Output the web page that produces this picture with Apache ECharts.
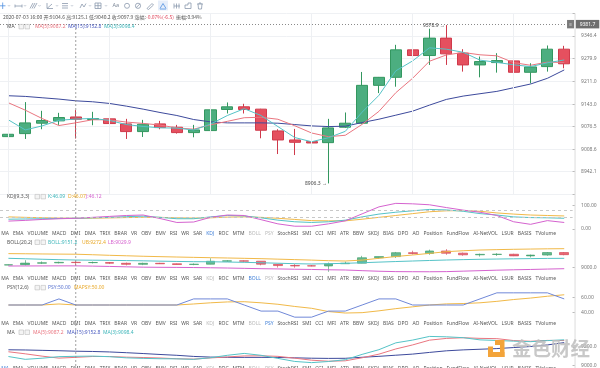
<!DOCTYPE html>
<html><head><meta charset="utf-8">
<script src="https://cdn.jsdelivr.net/npm/echarts@6/dist/echarts.min.js"></script>
<style>html,body{margin:0;padding:0;background:#fff;overflow:hidden}#c{width:600px;height:368px}</style>
</head><body><div id="c"></div>
<script>
// ---------------- data ----------------
const categories = ['07-03 00:00','07-03 04:00','07-03 08:00','07-03 12:00','07-03 16:00','07-03 20:00',
  '07-04 00:00','07-04 04:00','07-04 08:00','07-04 12:00','07-04 16:00','07-04 20:00',
  '07-05 00:00','07-05 04:00','07-05 08:00','07-05 12:00','07-05 16:00','07-05 20:00',
  '07-06 00:00','07-06 04:00','07-06 08:00','07-06 12:00','07-06 16:00','07-06 20:00',
  '07-07 00:00','07-07 04:00','07-07 08:00','07-07 12:00','07-07 16:00','07-07 20:00',
  '07-08 00:00','07-08 04:00','07-08 08:00','07-08 12:00'];
const opens  = [9046,9055,9086,9093,9104.6,9097,9099,9084,9061,9084,9074,9058,9064,9127,9135,9128,9063,9036,9031,9028,9074,9086,9199,9223,9305,9288,9340,9295,9260,9267,9272,9238,9255,9307];
const closes = [9053,9087,9094,9103,9097.9,9100,9085,9061,9083,9073,9058,9066,9126,9135,9127,9065,9036,9029,9027,9072,9086,9199,9223,9305,9288,9340,9293,9260,9270,9273,9238,9254,9307,9263.4];
const lows   = [9040,9039,9068,9081,9040.2,9080,9068,9039,9045,9068,9055,9044,9061,9115,9115,9041,8994,8991,9020,8906.3,9072,9084,9176,9195,9265,9260,9260,9240,9223,9237,9233,9205,9240,9250];
const highs  = [9058,9149,9123,9117,9125.1,9120,9111,9099,9096,9093,9081,9081,9189,9148,9144,9129,9068,9069,9048,9099,9118,9239,9224,9320,9346,9368,9378.9,9307,9285,9295,9282,9265,9318,9317];
const ma3  = [9096,9066,9078,9094.7,9098.4,9100.3,9094.3,9082,9076.3,9072.3,9071.3,9065.7,9083.3,9109,9129.3,9109,9076,9043.3,9030.7,9042.7,9061.7,9119,9169.3,9242.3,9272,9311,9307,9297.7,9274.3,9267.7,9260.3,9255,9266.3,9274.8];
const ma5  = [9147,9125,9100,9079,9087.2,9096.4,9096,9089.4,9085.4,9080.4,9072,9068.2,9081.2,9091.6,9102.4,9103.8,9097.8,9078.4,9056.8,9045.8,9050,9082.6,9121.4,9177,9220.2,9271,9289.8,9297.2,9290.2,9287.2,9266.8,9259,9268.4,9267.1];
const ma15 = [9168,9166,9162,9158,9152.8,9150,9145,9137,9128,9118,9109,9097,9090,9087,9087,9087,9086,9082,9078,9076,9077,9088,9098,9110,9122,9140,9157,9167,9174,9181,9192,9203,9220,9245];
const kdjK = [42,43,44,45,46.09,48,50,53,55,50,44,44,52,58,56,48,38,31,28,31,38,52,64,72,78,84,82,76,66,60,52,49,48,46];
const kdjD = [52,50,48.5,47,46.07,46.5,47.5,49,50,50,48,47,48,51,52,50,46,41,36,35,35,42,50,58,66,74,78,79,76,69,64,60,58,56];
const kdjJ = [34,37,41,44,46.12,50,54,58,60,45,28,30,50,60,58,40,22,12,12,22,35,65,95,110,108,104,92,81,72,58,31,20,36,28];
const bollUp  = [9285,9282,9278,9275,9272.4,9262,9250,9240,9230,9222,9214,9207,9200,9194,9187,9180,9170,9160,9150,9138,9131,9150,9187,9225,9256,9290,9325,9345,9360,9368,9375,9380,9385,9388];
const bollMid = [9187,9178,9168,9159,9151.2,9148,9145,9140,9135,9128,9122,9117,9115,9110,9103,9095,9085,9075,9069,9075,9083,9095,9108,9120,9131,9142,9152,9160,9167,9172,9177,9181,9185,9187];
const bollLow = [9027,9028,9029,9030,9029.9,9025,9018,9010,9003,9000,8998,8995,8990,8985,8978,8971,8966,8960,8955,8948,8944,8930,8918,8910,8908,8907,8910,8920,8930,8940,8948,8955,8963,8971];
const psy   = [50,50,50,58.33,50,50,50,50,50,50,50,58.33,58.33,58.33,50,41.67,41.67,33.33,33.33,41.67,41.67,50,58.33,58.33,50,50,50,50,58.33,66.67,66.67,66.67,66.67,58.33];
const maPsy = [50,50,50,51.4,50,50,50,50,50,50,50,51.4,53,54.2,54.5,53,51,48,45.5,41,39,39.5,42,45,47.5,50,51.5,52,53,55,57.5,59.5,62,64];
const mainTicks = [8942.1,9008.6,9076.5,9143.0,9211.0,9279.9,9346.4];
const mainGridVals = [8874.7,8942.1,9008.6,9076.5,9143.0,9211.0,9279.9,9346.4,9413.8];
const kdjTicks = [0,100];
const kdjLevels = [80,50];
const bollTicks = [9000,9500];
const psyTicks = [40,60];
const maTicks = [9000,9200];
const crossValue = 9381.7;
const hoverIndex = 4;
const tabs = ['MA','EMA','VOLUME','MACD','DMI','DMA','TRIX','BRAR','VR','OBV','EMV','RSI','WR','SAR','KDJ','ROC','MTM','BOLL','PSY','StochRSI','SMI','CCI','MFI','ATR','BBW','SKDJ','BIAS','DPO','AO','Position','FundFlow','AI-NetVOL','LSUR','BASIS','TVolume'];

// ---------------- styles ----------------
const FONT = 'Noto Sans';
const CJK = 'Noto Sans CJK SC';
const C_UP = '#4cae80', C_UP_B = '#33975f', C_DN = '#e5505f', C_DN_B = '#cf3a4b';
const C_CYAN = '#55c3c7', C_RED = '#ea7680', C_NAVY = '#3d4a9c', C_YEL = '#f1b948', C_MAG = '#d563cf', C_BLUE = '#7088d8';
const GL = -9.66, GW = 582.3, OFF = 2.4;

const candles = categories.map((_, i) => [opens[i], closes[i], lows[i], highs[i]]);
const fmt = d => v => v.toFixed(d);

const gridDefs = [[13.4,180.6],[200,31],[245,30],[290,29],[335,33]];
const yRanges = [[8874.7,9413.8],[-8.58,124.46],[8839.6,9464.6],[30.82,70.55],[8978.9,9326.3]];
const labelTicks = [mainTicks,kdjTicks,bollTicks,psyTicks,maTicks];
const labelDigits = [1,2,1,2,1];

const grid = gridDefs.map(([t,h]) => ({left: GL, width: GW, top: t, height: h}));
const xAxis = gridDefs.map((_, k) => ({type:'category', gridIndex:k, data:categories, boundaryGap:true, show:false}));
const yAxis = gridDefs.map((_, k) => ({
  type:'value', gridIndex:k, position:'right', offset:OFF, min:yRanges[k][0], max:yRanges[k][1],
  axisLine:{show:false},
  axisTick:{show:true, inside:true, length:2.5, customValues: k===0 ? mainGridVals : labelTicks[k], lineStyle:{color:'#aaa', width:0.8}},
  axisLabel:{customValues: labelTicks[k], formatter: fmt(labelDigits[k]), color:'#777', fontSize:5, fontFamily:FONT, margin:6},
  splitLine:{show: k===0, lineStyle:{color:'#eff1f4', width:1}}
}));

const line = (k, data, color, z) => ({type:'line', xAxisIndex:k, yAxisIndex:k, data, symbol:'none', smooth:false,
  lineStyle:{color, width:1}, itemStyle:{color}, z: z||3, silent:true});

const dayStarts = categories.map((c,i) => c.endsWith('00:00') ? i : -1).filter(i => i >= 0);

const series = [
  {type:'line', xAxisIndex:0, yAxisIndex:0, data:categories.map(()=>null), symbol:'none', z:1, silent:true,
   markLine:{silent:true, symbol:'none', animation:false, label:{show:false}, lineStyle:{color:'#eef0f3', type:'solid', width:1},
     data: dayStarts.map(i => ({xAxis: categories[i]}))}},
  {type:'candlestick', xAxisIndex:0, yAxisIndex:0, data:candles, barWidth:'69%', z:2,
   itemStyle:{color:C_UP, color0:C_DN, borderColor:C_UP_B, borderColor0:C_DN_B, borderWidth:1},
   markPoint:{symbol:'circle', symbolSize:1, animation:false, itemStyle:{color:'rgba(0,0,0,0)'},
     label:{show:true, position:'left', distance:1, color:'#444', fontSize:5, fontFamily:FONT, formatter: p => p.value + ' →'},
     data:[{type:'max', valueDim:'highest'},{type:'min', valueDim:'lowest'}]},
   markLine:{symbol:'none', silent:true, animation:false,
     data:[
       {yAxis: crossValue, lineStyle:{color:'#8a8a8a', type:[1,2], width:1},
        label:{show:true, position:'end', distance:3, formatter: crossValue.toFixed(1), color:'#fff', backgroundColor:'#6e6e6e', fontSize:5, fontFamily:FONT, padding:[2,4,1.5,4]}},
       {yAxis: closes[closes.length-1], lineStyle:{opacity:0},
        label:{show:true, position:'end', distance:3, formatter: closes[closes.length-1].toFixed(1), color:'#fff', backgroundColor:'#e25563', fontSize:5, fontFamily:FONT, padding:[2,4,1.5,4]}}
     ]}},
  line(0, ma15, C_NAVY), line(0, ma5, C_RED), line(0, ma3, C_CYAN),
  Object.assign(line(1, kdjD, C_YEL), {markLine:{symbol:'none', silent:true, animation:false, label:{show:false},
     lineStyle:{color:'#c8c8c8', type:[3,3], width:1}, data: kdjLevels.map(v => ({yAxis:v}))}}),
  line(1, kdjK, C_CYAN), line(1, kdjJ, C_MAG),
  {type:'candlestick', xAxisIndex:2, yAxisIndex:2, data:candles, barWidth:'55%', z:2,
   itemStyle:{color:C_UP, color0:C_DN, borderColor:C_UP_B, borderColor0:C_DN_B, borderWidth:0.7, opacity:0.85}},
  line(2, bollUp, C_YEL), line(2, bollMid, C_CYAN), line(2, bollLow, C_MAG),
  line(3, maPsy, C_YEL), line(3, psy, C_BLUE),
  line(4, ma15, C_NAVY), line(4, ma5, C_RED), line(4, ma3, C_CYAN)
];

const chart = echarts.init(document.getElementById('c'), null, {renderer:'canvas', width:600, height:368});
chart.setOption({animation:false, backgroundColor:'#fff', grid, xAxis, yAxis, series});

// ---------------- overlay texts ----------------
const mctx = document.createElement('canvas').getContext('2d');
function tw(t, size, fam) { mctx.font = size + 'px "' + fam + '"'; return mctx.measureText(t).width; }
const g = [];
function txt(x, y, text, fill, size, fam, extra) {
  g.push(Object.assign({type:'text', x, y, silent:true, z:50,
    style:{text, fill, fontSize:size||5, fontFamily:fam||FONT, align:'left', verticalAlign:'middle'}}, extra||{}));
  return x + tw(text, size||5, fam||FONT);
}
function boxes(x, y) {
  g.push({type:'rect', silent:true, z:50, shape:{x:x, y:y-2.3, width:4.5, height:4.5}, style:{fill:'#f4f4f4', stroke:'#bdbdbd', lineWidth:0.6}});
  g.push({type:'rect', silent:true, z:50, shape:{x:x+6, y:y-2.3, width:4.5, height:4.5}, style:{fill:'#f4f4f4', stroke:'#bdbdbd', lineWidth:0.6}});
}
const i = hoverIndex;
// toolbar icons (simple shapes)
const ic = '#8c99ad';
function pl(points, color, w) { g.push({type:'polyline', silent:true, z:50, shape:{points}, style:{stroke:color||ic, lineWidth:w||0.8, fill:null}}); }
function caret(x) { pl([[x-1.2,5],[x,6.3],[x+1.2,5]], '#aab3c2', 0.6); }
pl([[2.7,2.5],[2.7,9]], '#4f8fe0'); pl([[0,5.8],[5.5,5.8]], '#4f8fe0'); caret(9);
pl([[15,6],[22,6]]); pl([[15,4.5],[15,7.5]]); pl([[22,4.5],[22,7.5]]); caret(25);
pl([[30,8.5],[33,3]]); pl([[32,8.5],[35,3]]); pl([[34,8.5],[37,3]]); caret(39.5);
pl([[47,3],[47,8.5],[53,8.5]]); pl([[47,8.5],[52,4]]); caret(57);
pl([[62,3.5],[68,3.5]]); pl([[62,5.8],[68,5.8]]); pl([[62,8],[68,8]]); caret(72);
pl([[80,8],[82,4],[84,7],[86,3.5]]); caret(90);
g.push({type:'rect', silent:true, z:50, shape:{x:95, y:3, width:6, height:5.5}, style:{stroke:ic, lineWidth:0.8, fill:null}}); pl([[95,5.7],[101,5.7]]); pl([[98,3],[98,8.5]]); caret(106);
txt(112.5, 5.8, 'Aa', '#7d8898', 5.5, FONT);
g.push({type:'circle', silent:true, z:50, shape:{cx:127, cy:5.8, r:2.5}, style:{stroke:ic, lineWidth:0.8, fill:null}});
g.push({type:'circle', silent:true, z:50, shape:{cx:138, cy:5.8, r:2.6}, style:{stroke:ic, lineWidth:0.8, fill:null}}); pl([[136,7.8],[140,3.8]]);
pl([[147,8.5],[152,3.5],[153.5,5],[148.5,9.5],[147,8.5]]);
g.push({type:'rect', silent:true, z:49, shape:{x:158, y:0.5, width:10, height:10}, style:{fill:'#e6eefa'}}); pl([[160,8.5],[163,3.5],[166,8.5]], '#4f8fe0'); pl([[160,9],[166,9]], '#4f8fe0');
pl([[174,3.5],[174,8.5]]); pl([[176.5,3.5],[176.5,8.5]]); pl([[179,3.5],[179,8.5]]); pl([[174,6],[180,6]]);
pl([[185,8.5],[185,5],[188,5],[188,3],[191,3],[191,8.5],[185,8.5]]);
pl([[197,4],[203,4]]); pl([[198,4],[198.5,9],[201.5,9],[202,4]]); pl([[199,4],[199,3],[201,3],[201,4]]);
// header row 1
let x = txt(3, 17.3, categories[i].replace(/^(\d\d)-(\d\d)/, '2020-$1-$2') + ' 开:' + opens[i] + ' 高:' + highs[i] + ' 低:' + lows[i] + ' 收:' + closes[i] + ' 涨幅:', '#555', 5, CJK);
x = txt(x, 17.3, '-0.07%(-6.5)', '#e0455a', 5, CJK);
txt(x + 2, 17.3, '振幅:0.94%', '#555', 5, CJK);
// main MA header
txt(7, 26.7, 'MA', '#555'); boxes(19, 26.7);
txt(35, 26.7, 'MA(5):' + ma5[i].toFixed(1), C_RED);
txt(68, 26.7, 'MA(15):' + ma15[i].toFixed(1), '#4a5bc0');
txt(104, 26.7, 'MA(3):' + ma3[i].toFixed(1), '#3fb6ba');
// KDJ header
txt(7, 196.7, 'KDJ(9,3,3)', '#555'); boxes(35, 196.7);
txt(48, 196.7, 'K:' + kdjK[i].toFixed(2), '#3fb6ba');
txt(68, 196.7, 'D:' + kdjD[i].toFixed(2), '#e9a92a');
txt(86, 196.7, 'J:' + kdjJ[i].toFixed(2), C_MAG);
// BOLL header
txt(7, 242.3, 'BOLL(20,2)', '#555'); boxes(35, 242.3);
txt(48, 242.3, 'BOLL:' + bollMid[i].toFixed(1), '#3fb6ba');
txt(82, 242.3, 'UB:' + bollUp[i].toFixed(1), '#e9a92a');
txt(108, 242.3, 'LB:' + bollLow[i].toFixed(1), C_MAG);
// PSY header
txt(7, 287.7, 'PSY(12,6)', '#555'); boxes(35, 287.7);
txt(48, 287.7, 'PSY:' + psy[i].toFixed(2), '#5a74d0');
txt(74, 287.7, 'MAPSY:' + maPsy[i].toFixed(2), '#e9a92a');
// MA bottom header
txt(7, 332.3, 'MA', '#555'); boxes(19, 332.3);
txt(33, 332.3, 'MA(5):' + ma5[i].toFixed(1), C_RED);
txt(67, 332.3, 'MA(15):' + ma15[i].toFixed(1), '#4a5bc0');
txt(103, 332.3, 'MA(3):' + ma3[i].toFixed(1), '#3fb6ba');

// tab rows
const rowDefs = [[233.3,'KDJ'],[278.3,'BOLL'],[323.3,'PSY'],[368.6,'MA']];
const wts = tabs.map(t => tw(t, 5, FONT));
const restW = wts.slice(1).reduce((a,b)=>a+b, 0);
const gap = (556 - 13 - restW) / (tabs.length - 2);
rowDefs.forEach(([y, active]) => {
  let xx = 13 - gap - wts[0];
  tabs.forEach((t, k) => {
    let col = '#555';
    if (t === active) col = '#3f7fd8';
    else if (t === 'KDJ' || t === 'BOLL' || t === 'PSY') col = '#b9b9b9';
    txt(xx, y, t, col);
    xx += wts[k] + gap;
  });
});

// right axis border line
const axisX = GL + GW + OFF;
g.push({type:'line', silent:true, z:40, shape:{x1:axisX, y1:13.4, x2:axisX, y2:368}, style:{stroke:'#dcdcdc', lineWidth:1}});
// crosshair vertical line
const cx = chart.convertToPixel({xAxisIndex:0}, categories[hoverIndex]);
g.push({type:'line', silent:true, z:45, shape:{x1:cx, y1:24, x2:cx, y2:368}, style:{stroke:'#8a8a8a', lineWidth:0.8, lineDash:[2,2]}});
// crosshair small icon box
const cy = chart.convertToPixel({yAxisIndex:0}, crossValue);
g.push({type:'rect', silent:true, z:46, shape:{x:axisX-8, y:cy-4.2, width:7, height:8.4}, style:{fill:'#7a7a7a'}});
g.push({type:'text', silent:true, z:47, x:axisX-4.5, y:cy, style:{text:'≡', fill:'#fff', fontSize:5, fontFamily:FONT, align:'center', verticalAlign:'middle'}});

// watermark
g.push({type:'rect', silent:true, z:60, shape:{x:495, y:340, width:5, height:5}, style:{fill:'#f3a43a'}});
g.push({type:'rect', silent:true, z:60, shape:{x:500, y:340, width:4.5, height:17}, style:{fill:'#f3a43a'}});
g.push({type:'rect', silent:true, z:60, shape:{x:488, y:352, width:16.5, height:5}, style:{fill:'#f3a43a'}});
g.push({type:'rect', silent:true, z:60, shape:{x:488, y:346.5, width:5, height:5.5}, style:{fill:'#f3a43a'}});
g.push({type:'text', silent:true, z:60, x:512, y:349, style:{text:'金色财经', fill:'rgba(190,190,190,0.85)', fontSize:19.5, fontWeight:'bold', fontFamily:CJK, align:'left', verticalAlign:'middle'}});

chart.setOption({graphic: g});
</script></body></html>
